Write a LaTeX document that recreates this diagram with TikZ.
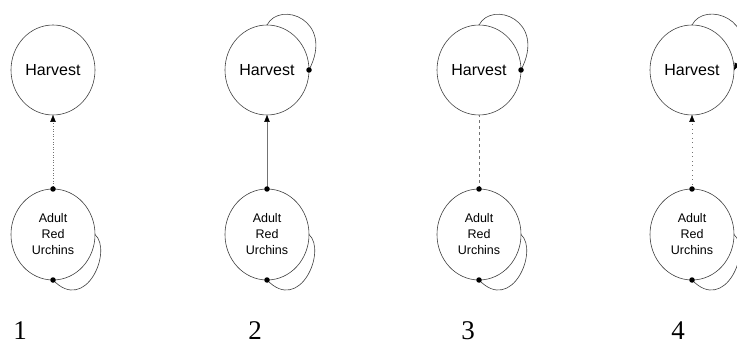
\documentclass[tikz,border=0pt]{standalone}
\usepackage{fontspec}
\setmainfont{Liberation Sans}
\newfontfamily\numfont{Liberation Serif}
\usetikzlibrary{shapes.geometric,arrows.meta,calc}
\tikzset{
  stateH/.style={ellipse,draw=black!75,line width=0.6pt,minimum width=84pt,minimum height=90pt,inner sep=0pt,outer sep=0pt,font=\fontsize{16}{18}\selectfont},
  stateU/.style={ellipse,draw=black!75,line width=0.6pt,minimum width=84pt,minimum height=91pt,inner sep=0pt,outer sep=0pt,align=center,font=\fontsize{12.5}{16}\selectfont},
  link/.style={draw=black!55,line width=0.6pt},
  loopline/.style={draw=black!75,line width=0.6pt},
  tip/.style={-{Triangle[length=7pt,width=5.5pt,color=black]}},
  dotmark/.style={circle,fill=black,inner sep=0pt,minimum size=5.5pt},
  num/.style={font=\numfont\fontsize{27}{30}\selectfont}
}
\begin{document}
\begin{tikzpicture}[x=1pt,y=-1pt]
\useasboundingbox (0,0) rectangle (737,350);
\clip (0,0) rectangle (737,350);
% panel 1
\node[stateH] (h1) at (53,70) {Harvest};
\node[stateU] (u1) at (53,234.5) {Adult\\Red\\Urchins};
\draw[link,dotted,tip] (u1.north) -- (h1.south);
\draw[loopline] (u1.east) .. controls ($(u1.center)+(60,16)$) and ($(u1.center)+(33,80)$) .. (u1.south);
\node[dotmark] (d1a) at (u1.north) {};
\node[dotmark] (d1b) at (u1.south) {};
% panel 2
\node[stateH] (h2) at (267,70) {Harvest};
\node[stateU] (u2) at (267,234.5) {Adult\\Red\\Urchins};
\draw[link,tip] (u2.north) -- (h2.south);
\draw[loopline] (h2.north) .. controls ($(h2.center)+(13,-70)$) and ($(h2.center)+(68,-50)$) .. (h2.east);
\draw[loopline] (u2.east) .. controls ($(u2.center)+(60,16)$) and ($(u2.center)+(33,80)$) .. (u2.south);
\node[dotmark] (d2a) at (u2.north) {};
\node[dotmark] (d2b) at (u2.south) {};
\node[dotmark] (d2c) at (h2.east) {};
% panel 3
\node[stateH] (h3) at (479,70) {Harvest};
\node[stateU] (u3) at (479,234.5) {Adult\\Red\\Urchins};
\draw[link,dashed] (u3.north) -- (h3.south);
\draw[loopline] (h3.north) .. controls ($(h3.center)+(13,-70)$) and ($(h3.center)+(68,-50)$) .. (h3.east);
\draw[loopline] (u3.east) .. controls ($(u3.center)+(60,16)$) and ($(u3.center)+(33,80)$) .. (u3.south);
\node[dotmark] (d3a) at (u3.north) {};
\node[dotmark] (d3b) at (u3.south) {};
\node[dotmark] (d3c) at (h3.east) {};
% panel 4
\node[stateH] (h4) at (692,70) {Harvest};
\node[stateU] (u4) at (692,234.5) {Adult\\Red\\Urchins};
\draw[link,loosely dotted,tip] (u4.north) -- (h4.south);
\draw[loopline,tip] (h4.north) .. controls ($(h4.center)+(13,-70)$) and ($(h4.center)+(68,-50)$) .. (h4.east);
\draw[loopline] (u4.east) .. controls ($(u4.center)+(60,16)$) and ($(u4.center)+(33,80)$) .. (u4.south);
\node[dotmark] (d4a) at (u4.north) {};
\node[dotmark] (d4b) at (u4.south) {};
% numbers
\node[num] (n1) at (20,331) {1};
\node[num] (n2) at (255,331) {2};
\node[num] (n3) at (468,331) {3};
\node[num] (n4) at (678,331) {4};
\end{tikzpicture}
\end{document}
